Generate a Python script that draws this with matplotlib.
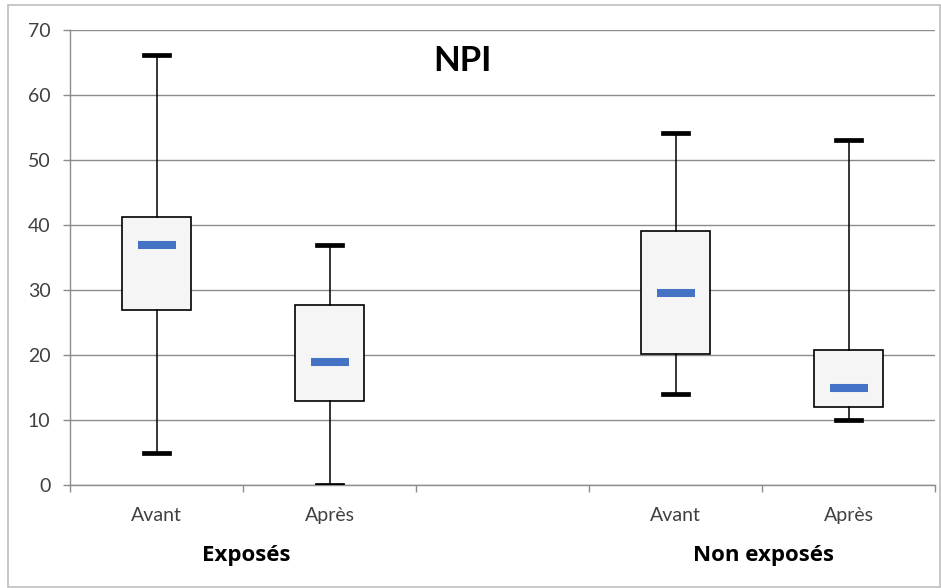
import matplotlib
matplotlib.use("Agg")
import matplotlib.pyplot as plt
from matplotlib.patches import Rectangle

plt.rcParams['font.family'] = ['Lato', 'DejaVu Sans']

# Data
categories = ["Avant", "Après", "", "Avant", "Après"]
groups = ["Exposés", "Non exposés"]
group_centers = [1.52, 4.51]  # in category index units (1-based)
positions = [1, 2, 4, 5]
minimum = [5, 0, 14, 10]
q1 = [27, 13, 20.2, 12]
median = [37, 19, 29.5, 15]
q3 = [41.2, 27.7, 39.1, 20.7]
maximum = [66.2, 37, 54.2, 53.1]
yticks = [0, 10, 20, 30, 40, 50, 60, 70]
title = "NPI"

fig = plt.figure(figsize=(9.41, 5.88), dpi=100)
ax = fig.add_axes([70/941, 103/588, (935-70)/941, (485-30)/588])

stats = []
for lo, a, m, b, hi in zip(minimum, q1, median, q3, maximum):
    stats.append(dict(med=m, q1=a, q3=b, whislo=lo, whishi=hi, fliers=[]))

ax.bxp(stats, positions=positions, widths=0.4, capwidths=0.14, patch_artist=True,
       showfliers=False,
       boxprops=dict(facecolor='#F5F5F5', edgecolor='black', linewidth=1.2),
       whiskerprops=dict(color='black', linewidth=1.1),
       capprops=dict(color='black', linewidth=3.4),
       medianprops=dict(visible=False), manage_ticks=False, zorder=3)

ax.plot(positions, median, linestyle='none', marker='_', markersize=27,
        markeredgewidth=5.8, color='#4472C4', zorder=4)

ax.set_xlim(0.5, 5.5)
ax.set_ylim(0, 70)
ax.set_yticks(yticks)
ax.set_yticklabels([str(t) for t in yticks], fontsize=14, color='#404040')
ax.yaxis.grid(True, color='#8C8C8C', linewidth=1.0)
ax.set_axisbelow(True)

ax.set_xticks([1, 2, 3, 4, 5])
ax.set_xticklabels(categories, fontsize=14, color='#404040')
ax.set_xticks([0.5, 1.5, 2.5, 3.5, 4.5, 5.5], minor=True)
ax.tick_params(axis='x', which='major', length=0, pad=16)
ax.tick_params(axis='x', which='minor', length=5, color='#8C8C8C', width=1)
ax.tick_params(axis='y', length=5, color='#8C8C8C', width=1, pad=9)

for s in ['top', 'right']:
    ax.spines[s].set_visible(False)
for s in ['left', 'bottom']:
    ax.spines[s].set_color('#8C8C8C')
    ax.spines[s].set_linewidth(1.0)

for g, c in zip(groups, group_centers):
    ax.text(c, -10.8, g, transform=ax.transData, ha='center', va='center',
            fontsize=16, fontweight='bold', color='black', clip_on=False,
            family=['Open Sans', 'DejaVu Sans'])

ax.text(0.454, 0.931, title, transform=ax.transAxes, ha='center', va='center',
        fontsize=25, fontweight='bold', color='black')

fig.patches.append(Rectangle((8/941, 1/588), 932/941, 582/588, transform=fig.transFigure,
                             fill=False, edgecolor='#BFBFBF', linewidth=1.2))

fig.savefig("out.png", dpi=100)
